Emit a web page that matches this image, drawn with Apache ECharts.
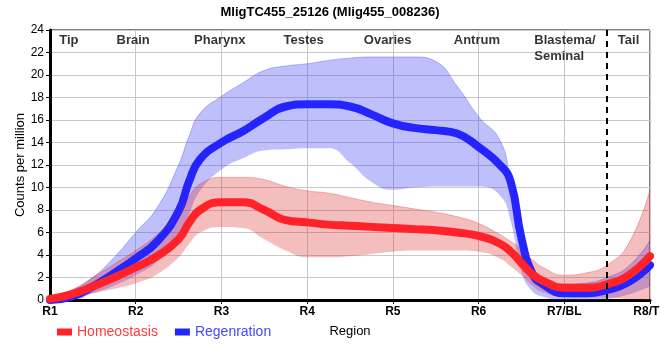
<!DOCTYPE html>
<html><head><meta charset="utf-8">
<script src="https://cdn.jsdelivr.net/npm/echarts@6/dist/echarts.min.js"></script>
<style>html,body{margin:0;padding:0;background:#fff;overflow:hidden}#c{width:660px;height:360px}</style>
</head><body><div id="c"></div>
<script>
var xs      = [1,1.25,1.5,1.75,2,2.25,2.5,2.625,2.75,3,3.25,3.5,3.75,4,4.25,4.5,4.75,5,5.25,5.5,5.75,6,6.25,6.375,6.5,6.625,6.75,7,7.25,7.5,7.75,8];
var homMean = [0.1,0.5,1.2,2.0,2.9,3.9,5.4,6.9,8.0,8.7,8.7,8.0,7.1,6.9,6.7,6.6,6.5,6.4,6.3,6.2,6.0,5.7,5.0,4.3,3.3,2.3,1.7,1.1,1.1,1.4,2.2,3.9];
var homHi   = [0.3,0.9,2.0,3.2,4.4,5.8,7.6,9.2,10.3,10.9,10.9,10.7,10.1,9.7,9.5,9.1,8.7,8.4,8.1,7.8,7.4,6.8,5.8,5.2,4.5,3.6,2.9,2.2,2.4,3.1,5.0,9.8];
var homLo   = [0.0,0.2,0.6,1.0,1.5,2.3,3.8,5.0,6.0,6.5,6.4,5.4,4.4,3.8,3.8,3.9,4.1,4.3,4.4,4.4,4.4,4.3,3.7,3.0,2.2,1.3,0.7,0.3,0.2,0.2,0.1,0.0];
var regMean = [0.0,0.3,1.2,2.4,3.7,5.2,7.9,10.6,12.5,14.0,15.0,16.2,17.2,17.4,17.4,17.2,16.5,15.7,15.3,15.1,14.8,13.6,12.0,10.5,5.5,2.4,1.4,0.6,0.6,0.9,1.6,3.1];
var regHi   = [0.1,0.8,2.0,3.8,6.0,8.2,12.0,14.6,16.6,18.1,19.3,20.4,20.8,21.0,21.3,21.5,21.6,21.6,21.6,21.2,19.0,16.3,14.2,10.5,6.3,2.8,2.0,1.4,1.5,2.0,3.0,5.3];
var regLo   = [0.0,0.0,0.6,1.3,2.2,3.4,5.5,7.7,9.7,11.6,12.6,13.3,13.4,13.5,13.5,12.2,10.5,9.8,10.0,10.1,10.1,10.1,9.3,7.0,2.5,0.8,0.3,0.0,0.0,0.1,0.5,1.2];
var tickLabels  = ['R1','R2','R3','R4','R5','R6','R7/BL','R8/TL'];
var regionNames = ['Tip','Brain','Pharynx','Testes','Ovaries','Antrum','Blastema/\nSeminal','Tail'];
var regionPos   = [1.22,1.97,2.98,3.96,4.94,5.98,6.65,7.75];
var dividerX = 7.5;

// data stored as [y, x] so the stacked dimension is y (encode maps it back)
function pairs(a){ return xs.map(function(x,i){ return [a[i],x]; }); }
function diff(h,l){ return xs.map(function(x,i){ return [+(h[i]-l[i]).toFixed(3),x]; }); }
var enc = {x:1,y:0};
var sm = 0.5;

var chart = echarts.init(document.getElementById('c'));
var ff = 'Liberation Sans, Arial, sans-serif';
chart.setOption({
  animation:false,
  textStyle:{fontFamily:ff},
  title:{text:'MligTC455_25126 (Mlig455_008236)',left:'center',top:1,
    textStyle:{fontSize:13,fontWeight:'bold',color:'#000',fontFamily:ff}},
  legend:{left:52,top:320,itemWidth:15,itemHeight:7,itemGap:17,icon:'rect',
    textStyle:{fontSize:14,fontFamily:ff},
    data:[{name:'Homeostasis',textStyle:{color:'#ff3b3b'}},{name:'Regenration',textStyle:{color:'#4646ff'}}]},
  grid:{left:50,right:10,top:30,bottom:60,show:true,borderColor:'#000',borderWidth:1,
    containLabel:false,outerBoundsMode:'none'},
  xAxis:{type:'value',min:1,max:8,interval:1,name:'Region',nameLocation:'middle',nameGap:25,
    nameMoveOverlap:false,
    nameTextStyle:{fontSize:13,color:'#000'},
    axisLine:{lineStyle:{color:'#000',width:3}},
    axisTick:{show:true,length:4,lineStyle:{color:'#000',width:1}},
    axisLabel:{fontSize:12,fontWeight:'bold',color:'#000',margin:6,hideOverlap:false,
      formatter:function(v){ return tickLabels[Math.round(v)-1]||''; }},
    splitLine:{show:true,lineStyle:{color:'#c8c8c8',width:1}}},
  yAxis:{type:'value',min:0,max:24,interval:2,name:'Counts per million',nameLocation:'middle',nameGap:23,
    nameMoveOverlap:false,
    nameTextStyle:{fontSize:13,color:'#000'},
    axisLine:{show:true,lineStyle:{color:'#000',width:3}},
    axisTick:{show:true,length:4,lineStyle:{color:'#000',width:1}},
    axisLabel:{fontSize:12,color:'#000',margin:6},
    splitLine:{show:true,lineStyle:{color:'#c8c8c8',width:1}}},
  series:[
    {name:'regLo',type:'line',stack:'reg',encode:enc,data:pairs(regLo),smooth:sm,symbol:'none',lineStyle:{width:0,opacity:0},silent:true},
    {name:'regBand',type:'line',stack:'reg',encode:enc,data:diff(regHi,regLo),smooth:sm,symbol:'none',
      lineStyle:{width:1,color:'rgba(60,60,245,0.35)'},areaStyle:{color:'rgba(60,60,245,0.47)'},silent:true},
    {name:'Regenration',type:'line',encode:enc,data:pairs(regMean),smooth:sm,symbol:'none',color:'#2424ff',
      lineStyle:{width:8,color:'#2424ff',cap:'round'}},
    {name:'homLo',type:'line',stack:'hom',encode:enc,data:pairs(homLo),smooth:sm,symbol:'none',lineStyle:{width:0,opacity:0},silent:true},
    {name:'homBand',type:'line',stack:'hom',encode:enc,data:diff(homHi,homLo),smooth:sm,symbol:'none',
      lineStyle:{width:1,color:'rgba(225,50,50,0.35)'},areaStyle:{color:'rgba(225,50,50,0.45)'},silent:true},
    {name:'Homeostasis',type:'line',encode:enc,data:pairs(homMean),smooth:sm,symbol:'none',color:'#ff2228',
      lineStyle:{width:8,color:'#ff2228',cap:'round'},
      markLine:{silent:true,symbol:'none',label:{show:false},
        lineStyle:{type:[6,5],color:'#000',width:2},data:[{xAxis:dividerX}]}},
    {name:'regions',type:'scatter',symbolSize:0,silent:true,
      data:regionNames.map(function(n,i){
        return {value:[regionPos[i],23.75],name:n,
          label:{align:(i===6?'left':'center')}};
      }),
      label:{show:true,position:'inside',verticalAlign:'top',fontSize:13,fontWeight:'bold',color:'#000',
        lineHeight:16,fontFamily:ff,formatter:function(p){return p.name;}}}
  ]
});
</script></body></html>
